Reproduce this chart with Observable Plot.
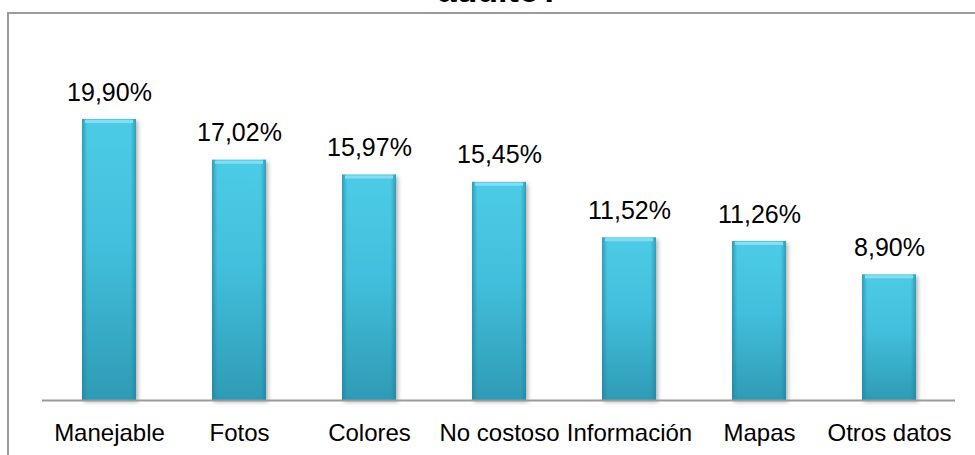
<!DOCTYPE html>
<html>
<head>
<meta charset="utf-8">
<script src="https://cdn.jsdelivr.net/npm/d3@7"></script>
<script src="https://cdn.jsdelivr.net/npm/@observablehq/plot@0.6"></script>
<style>
  html, body { margin: 0; padding: 0; background: #fff; }
  #wrap { position: relative; width: 975px; height: 455px; overflow: hidden; font-family: "Liberation Sans", Arial, sans-serif; }
  #frame { position: absolute; left: 7px; top: 12px; width: 1200px; height: 800px; border-left: 2px solid #9a9a9a; border-top: 2px solid #9a9a9a; box-sizing: border-box; }
  #chart { position: absolute; left: 0; top: 0; }
</style>
</head>
<body>
<div id="wrap"><div id="frame"></div><div id="chart"></div></div>
<script>
const categories = ["Manejable", "Fotos", "Colores", "No costoso", "Información", "Mapas", "Otros datos"];
const values = [19.90, 17.02, 15.97, 15.45, 11.52, 11.26, 8.90];
const labels = ["19,90%", "17,02%", "15,97%", "15,45%", "11,52%", "11,26%", "8,90%"];
const titleText = "adulto?";

const data = categories.map((c, i) => ({cat: c, v: values[i], label: labels[i]}));

const chart = Plot.plot({
  width: 975,
  height: 455,
  marginLeft: 42,
  marginRight: 20,
  marginTop: 47,
  marginBottom: 55,
  style: {fontFamily: "'Liberation Sans', Arial, sans-serif", fontSize: "24px", color: "#000", background: "transparent", overflow: "visible"},
  x: {domain: categories, paddingInner: 0.585, paddingOuter: 0.2925, label: null, tickSize: 0, tickPadding: 23},
  y: {domain: [0, 25], axis: null},
  marks: [
    Plot.barY(data, {x: "cat", y: "v", fill: "url(#barV)"}),
    Plot.barY(data, {x: "cat", y: "v", fill: "url(#barH)"}),
    Plot.tickY(data, {x: "cat", y: "v", stroke: "#86dcf0", strokeWidth: 3, dy: 2, inset: 3}),
    Plot.ruleY([0], {stroke: "#9a9a9a", strokeWidth: 2}),
    Plot.text(data, {x: "cat", y: "v", text: "label", dy: -27, lineAnchor: "middle", fill: "#000", fontSize: 25}),
    Plot.text([titleText], {frameAnchor: "top", dy: -46, lineAnchor: "bottom", text: d => d, fontWeight: "bold", fontSize: 34, fill: "#000"})
  ]
});

const svg = d3.select(chart);
const defs = svg.insert("defs", ":first-child");
const gv = defs.append("linearGradient").attr("id", "barV").attr("x1", 0).attr("y1", 0).attr("x2", 0).attr("y2", 1);
gv.append("stop").attr("offset", "0%").attr("stop-color", "#4dcbe7");
gv.append("stop").attr("offset", "45%").attr("stop-color", "#42bfdc");
gv.append("stop").attr("offset", "100%").attr("stop-color", "#2e9bb5");
const gh = defs.append("linearGradient").attr("id", "barH").attr("x1", 0).attr("y1", 0).attr("x2", 1).attr("y2", 0);
gh.append("stop").attr("offset", "0%").attr("stop-color", "#1d7f96").attr("stop-opacity", 0.6);
gh.append("stop").attr("offset", "10%").attr("stop-color", "#1d7f96").attr("stop-opacity", 0.0);
gh.append("stop").attr("offset", "90%").attr("stop-color", "#1d7f96").attr("stop-opacity", 0.0);
gh.append("stop").attr("offset", "100%").attr("stop-color", "#1d7f96").attr("stop-opacity", 0.6);
const f = defs.append("filter").attr("id", "shadow").attr("x", "-20%").attr("y", "-10%").attr("width", "140%").attr("height", "130%");
f.append("feDropShadow").attr("dx", 2).attr("dy", 2).attr("stdDeviation", 2).attr("flood-color", "#000").attr("flood-opacity", 0.3);
svg.select("g[aria-label=bar]").attr("filter", "url(#shadow)");

document.getElementById("chart").appendChild(chart);
</script>
</body>
</html>
